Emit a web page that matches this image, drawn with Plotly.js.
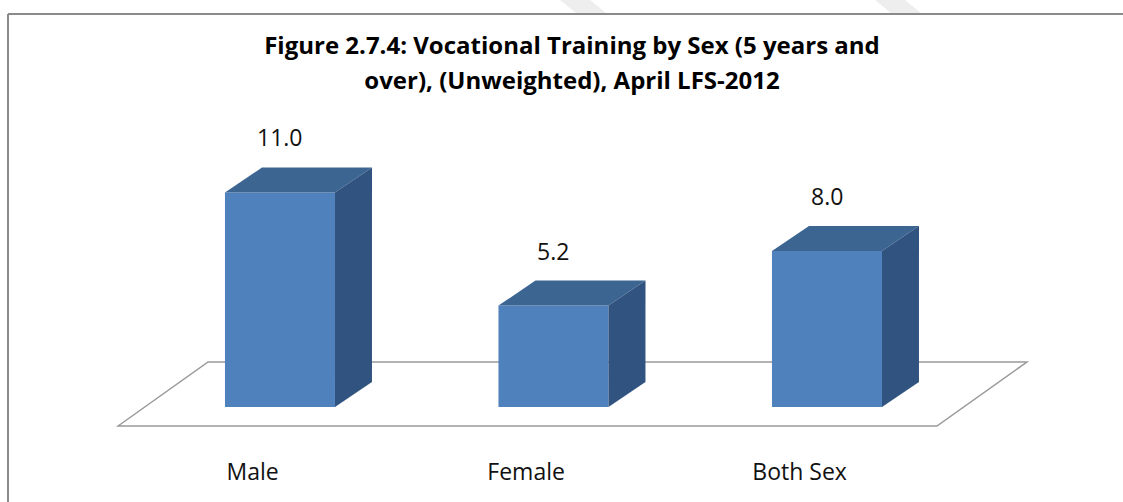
<!DOCTYPE html>
<html>
<head>
<meta charset="utf-8">
<script src="https://cdn.plot.ly/plotly-3.0.1.min.js"></script>
<style>
  html, body { margin: 0; padding: 0; background: #ffffff; }
  #chart { width: 1123px; height: 502px; }
</style>
</head>
<body>
<div id="chart"></div>
<script>
// ---- data ----
const categories = ['Male', 'Female', 'Both Sex'];
const values = [11.0, 5.2, 8.0];
const titleLines = ['Figure 2.7.4: Vocational Training by Sex (5 years and', 'over), (Unweighted), April LFS-2012'];

// ---- geometry / style ----
const W = 1123, H = 502;
const M = {l: 100, r: 63, t: 110, b: 57};
const plotW = W - M.l - M.r, plotH = H - M.t - M.b;
const xRange = [-0.658, 2.852];
const yRange = [-1.949, 15.23];
const pxPerX = plotW / (xRange[1] - xRange[0]);
const pxPerY = plotH / (yRange[1] - yRange[0]);
const barW = 110 / pxPerX;          // front face width (data units)
const depthX = 37 / pxPerX;         // 3D depth offset, x
const depthY = 25 / pxPerY;         // 3D depth offset, y
const frontColor = '#4f81bd', topColor = '#3d6592', sideColor = '#31537f';

const xs = categories.map((c, i) => i);

// front faces as bars
const traces = [{
  type: 'bar', x: xs, y: values, width: barW, base: 0,
  marker: {color: frontColor, line: {width: 0}},
  hoverinfo: 'skip', showlegend: false
}];

// top and side faces computed from values
values.forEach((v, i) => {
  const x0 = xs[i] - barW / 2, x1 = xs[i] + barW / 2;
  traces.push({
    type: 'scatter', mode: 'lines', fill: 'toself', fillcolor: topColor,
    line: {width: 0, color: topColor},
    x: [x0, x0 + depthX, x1 + depthX, x1, x0],
    y: [v, v + depthY, v + depthY, v, v],
    hoverinfo: 'skip', showlegend: false
  });
  traces.push({
    type: 'scatter', mode: 'lines', fill: 'toself', fillcolor: sideColor,
    line: {width: 0, color: sideColor},
    x: [x1, x1, x1 + depthX, x1 + depthX, x1],
    y: [0, v, v + depthY, depthY, 0],
    hoverinfo: 'skip', showlegend: false
  });
});

// floor (parallelogram under the bars)
const n = categories.length;
const floorFrontY = -19 / pxPerY, floorBackY = 45 / pxPerY;
const floorFrontL = -0.592, floorFrontR = (n - 1) + 0.402;
const floorShift = 90 / pxPerX;
const shapes = [{
  type: 'path', layer: 'below', xref: 'x', yref: 'y',
  path: `M ${floorFrontL} ${floorFrontY} L ${floorFrontL + floorShift} ${floorBackY} L ${floorFrontR + floorShift} ${floorBackY} L ${floorFrontR} ${floorFrontY} Z`,
  line: {color: '#9a9a9a', width: 1.5}, fillcolor: 'rgba(255,255,255,0)'
}];

// outer border (left + top), in paper coordinates
const px2paperX = px => (px - M.l) / plotW;
const py2paperY = py => (H - M.b - py) / plotH;
shapes.push({type: 'line', xref: 'paper', yref: 'paper', layer: 'above',
  x0: px2paperX(8), y0: py2paperY(14), x1: px2paperX(1125), y1: py2paperY(14),
  line: {color: '#8a8a8a', width: 2}});
shapes.push({type: 'line', xref: 'paper', yref: 'paper', layer: 'above',
  x0: px2paperX(8), y0: py2paperY(14), x1: px2paperX(8), y1: py2paperY(505),
  line: {color: '#8a8a8a', width: 2}});
// faint watermark stripes above the border
[[560, 590], [875, 905]].forEach(([a, b]) => {
  shapes.push({type: 'path', xref: 'paper', yref: 'paper', layer: 'below',
    path: `M ${px2paperX(a)} ${py2paperY(0)} L ${px2paperX(b)} ${py2paperY(0)} L ${px2paperX(b + 16)} ${py2paperY(13)} L ${px2paperX(a + 16)} ${py2paperY(13)} Z`,
    fillcolor: '#eeeeee', line: {width: 0}});
});

// value labels
const annotations = values.map((v, i) => ({
  x: xs[i], y: v, xref: 'x', yref: 'y', text: v.toFixed(1), showarrow: false,
  yshift: 55, xanchor: 'center', yanchor: 'middle',
  font: {family: 'Open Sans, sans-serif', size: 23, color: '#111111'}
}));

const titleText = titleLines.map(t => `<span style="font-size:24px">${t}</span>`).join('<br>');

const layout = {
  width: W, height: H,
  margin: M,
  paper_bgcolor: '#ffffff', plot_bgcolor: 'rgba(0,0,0,0)',
  title: {text: titleText, x: 572 / W, xanchor: 'center', xref: 'container',
          y: 1 - 54 / H, yanchor: 'top', yref: 'container',
          font: {family: 'Open Sans, sans-serif', size: 27, color: '#000000', weight: 'bold'}},
  xaxis: {range: xRange, showgrid: false, zeroline: false, showline: false,
          tickvals: xs.map(x => x - 0.1), ticktext: categories, ticks: '',
          tickfont: {family: 'Open Sans, sans-serif', size: 23, color: '#111111'},
          ticklabelstandoff: 11, fixedrange: true},
  yaxis: {range: yRange, visible: false, fixedrange: true},
  shapes: shapes,
  annotations: annotations,
  showlegend: false
};

Plotly.newPlot('chart', traces, layout, {displayModeBar: false, staticPlot: true});
</script>
</body>
</html>
